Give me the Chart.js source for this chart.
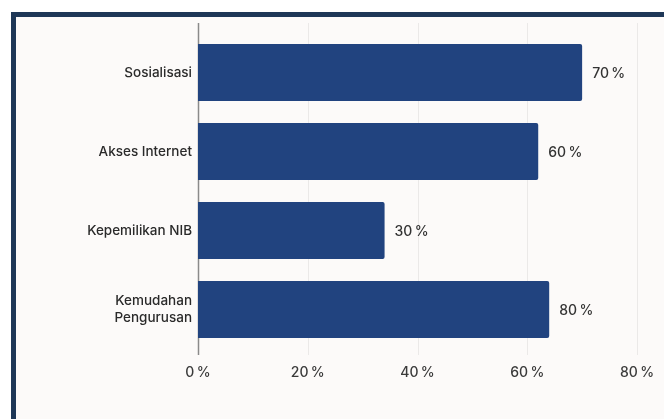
<!DOCTYPE html>
<html>
<head>
<meta charset="utf-8">
<title>Faktor</title>
<script src="https://cdn.jsdelivr.net/npm/chart.js@4.4.0/dist/chart.umd.min.js"></script>
<style>
  html, body { margin: 0; padding: 0; background: #ffffff; overflow: hidden; }
  #frame { position: absolute; left: 11px; top: 12px; width: 700px; height: 460px;
           border: 5px solid #1e3757; background: #fcfaf9; }
  #wrap { position: absolute; left: 0; top: 0; width: 664px; height: 419px; }
</style>
</head>
<body>
<div id="frame"></div>
<div id="wrap"><canvas id="myChart" width="664" height="419"></canvas></div>

<script>
// data
const categories = ["Sosialisasi", "Akses Internet", "Kepemilikan NIB", ["Kemudahan", "Pengurusan"]];
const barValues = [70, 62, 34, 64];          // bar lengths as drawn
const valueLabels = ["70\u2009%", "60\u2009%", "30\u2009%", "80\u2009%"];  // printed next to bars
const xTicks = [0, 20, 40, 60, 80];

const fontName = "Inter, 'Liberation Sans', sans-serif";

// vertical grid lines + axis line, a bit longer than the plot area
const gridPlugin = {
  id: 'longGrid',
  beforeDatasetsDraw(chart) {
    const ctx = chart.ctx, a = chart.chartArea, xs = chart.scales.x;
    ctx.save();
    xTicks.forEach(v => {
      const px = Math.round(xs.getPixelForValue(v)) + 0.5;
      ctx.beginPath();
      ctx.strokeStyle = v == 0 ? '#8a8a8a' : '#ebe9e8';
      ctx.lineWidth = v == 0 ? 1.5 : 1;
      ctx.moveTo(px, a.top - 10);
      ctx.lineTo(px, a.bottom + 6);
      ctx.stroke();
    });
    ctx.restore();
  }
};

// percentage text at the end of each bar
const labelPlugin = {
  id: 'barLabels',
  afterDatasetsDraw(chart) {
    const ctx = chart.ctx;
    const meta = chart.getDatasetMeta(0);
    ctx.save();
    ctx.font = "500 14px " + fontName;
    ctx.fillStyle = '#333333';
    ctx.textAlign = 'left';
    ctx.textBaseline = 'middle';
    meta.data.forEach((bar, i) => {
      ctx.fillText(valueLabels[i], bar.x + 10, bar.y + 1);
    });
    ctx.restore();
  }
};

new Chart(document.getElementById('myChart'), {
  type: 'bar',
  data: {
    labels: categories,
    datasets: [{
      data: barValues,
      backgroundColor: '#21437f',
      borderRadius: 2,
      borderSkipped: 'start',
      categoryPercentage: 1,
      barPercentage: 0.72
    }]
  },
  options: {
    indexAxis: 'y',
    responsive: false,
    animation: false,
    devicePixelRatio: 1,
    layout: { padding: { left: 0, right: 27, top: 33, bottom: 0 } },
    plugins: { legend: { display: false }, tooltip: { enabled: false } },
    scales: {
      x: {
        min: 0, max: 80,
        afterBuildTicks: s => { s.ticks = xTicks.map(v => ({ value: v })); },
        afterFit: s => { s.height = 70; s.paddingLeft = 0; s.paddingRight = 0; },
        grid: { display: false, drawTicks: false },
        border: { display: false },
        ticks: {
          padding: 15,
          color: '#3a3a3a',
          font: { family: fontName, size: 14, weight: '500' },
          callback: v => v + '\u2009%'
        }
      },
      y: {
        afterFit: s => { s.width = 198; },
        grid: { display: false, drawTicks: false },
        border: { display: false },
        ticks: {
          padding: 6,
          color: '#2a2a2a',
          font: { family: fontName, size: 13.5, weight: '500' }
        }
      }
    }
  },
  plugins: [gridPlugin, labelPlugin]
});
</script>
</body>
</html>
